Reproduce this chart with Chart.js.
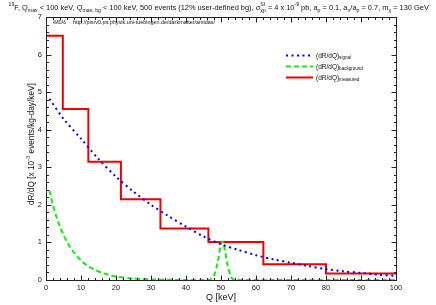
<!DOCTYPE html>
<html>
<head>
<meta charset="utf-8">
<script src="https://cdn.jsdelivr.net/npm/chart.js@4.4.1/dist/chart.umd.min.js"></script>
<style>
  html, body { margin: 0; padding: 0; background: #fff; }
  #wrap { width: 436px; height: 305px; }
</style>
</head>
<body>
<div id="wrap"><canvas id="c" width="436" height="305"></canvas></div>
<script>
// measured spectrum: bin edges + value per bin (x 10^-3 events/kg-day/keV)
const binEdges = [0, 4.8, 12.1, 21.4, 32.7, 46.4, 62.1, 80, 100];
const measured = [6.5, 4.55, 3.15, 2.15, 1.37, 1.01, 0.42, 0.17];

// signal curve
const signalQ = [1, 5, 10, 15, 20, 25, 30, 35, 40, 45, 50, 55, 60, 65, 70, 75, 80, 85, 90, 95, 100];
const signalRate = [4.82, 4.29, 3.76, 3.22, 2.75, 2.35, 2.0, 1.7, 1.42, 1.16, 0.95, 0.8, 0.66, 0.55, 0.46, 0.37, 0.29, 0.23, 0.19, 0.14, 0.11];

// background curve
const bgQ = [1, 2, 3, 4, 5, 6, 7, 8, 9, 10, 12, 14, 16, 18, 20, 25, 30, 35, 40, 46, 47, 48, 49, 50, 50.5, 51, 52, 53, 54, 60, 70, 80, 90, 100];
const bgRate = [2.38, 1.99, 1.68, 1.42, 1.2, 1.02, 0.86, 0.73, 0.62, 0.52, 0.37, 0.27, 0.19, 0.14, 0.09, 0.04, 0.015, 0.005, 0, 0, 0.02, 0.12, 0.45, 0.95, 1.02, 0.85, 0.35, 0.06, 0, 0, 0, 0, 0, 0];

const xTicks = [0, 10, 20, 30, 40, 50, 60, 70, 80, 90, 100];
const yTicks = [0, 1, 2, 3, 4, 5, 6, 7];

const FONT = '"Liberation Sans", Arial, Helvetica, sans-serif';

// step points: each bin value is held until the next edge
const measuredPts = [{ x: binEdges[0], y: measured[0] }];
for (let i = 1; i < binEdges.length; i++) {
  measuredPts.push({ x: binEdges[i], y: measured[i - 1] });
  if (i < measured.length) measuredPts.push({ x: binEdges[i], y: measured[i] });
}
const signalPts = signalQ.map((q, i) => ({ x: q, y: signalRate[i] }));
const bgPts = bgQ.map((q, i) => ({ x: q, y: bgRate[i] }));

// draw text with super/subscripts, returns width
function richWidth(ctx, parts, size) {
  let w = 0;
  for (const [t, mode] of parts) {
    if (mode === 'both') {
      ctx.font = (size * 0.7) + 'px ' + FONT;
      w += Math.max(ctx.measureText(t[0]).width, ctx.measureText(t[1]).width);
    } else {
      ctx.font = (mode ? size * 0.7 : size) + 'px ' + FONT;
      w += ctx.measureText(t).width;
    }
  }
  return w;
}

function drawRich(ctx, x, y, parts, size) {
  ctx.textBaseline = 'alphabetic';
  ctx.textAlign = 'left';
  for (const [t, mode] of parts) {
    if (mode === 'both') {
      ctx.font = (size * 0.7) + 'px ' + FONT;
      ctx.fillText(t[0], x, y - size * 0.42);
      ctx.fillText(t[1], x, y + size * 0.3);
      x += Math.max(ctx.measureText(t[0]).width, ctx.measureText(t[1]).width);
    } else if (mode) {
      ctx.font = (size * 0.7) + 'px ' + FONT;
      ctx.fillText(t, x, y + (mode === 'sup' ? -size * 0.42 : size * 0.3));
      x += ctx.measureText(t).width;
    } else {
      ctx.font = size + 'px ' + FONT;
      ctx.fillText(t, x, y);
      x += ctx.measureText(t).width;
    }
  }
}

// plain text squeezed into a given width
function fitText(ctx, text, x, y, width, size) {
  ctx.font = size + 'px ' + FONT;
  const s = width / ctx.measureText(text).width;
  ctx.save();
  ctx.translate(x, y);
  ctx.scale(s, 1);
  ctx.textAlign = 'left';
  ctx.fillText(text, 0, 0);
  ctx.restore();
}

const titleParts = [
  ['19', 'sup'], ['F, Q', ''], ['max', 'sub'], [' < 100 keV, Q', ''], ['max, bg', 'sub'],
  [' < 100 keV, 500 events (12% user-defined bg), σ', ''], [['SI', 'χp'], 'both'],
  [' = 4 x 10', ''], ['-9', 'sup'], [' pb, a', ''], ['p', 'sub'], [' = 0.1, a', ''], ['n', 'sub'],
  ['/a', ''], ['p', 'sub'], [' = 0.7, m', ''], ['χ', 'sub'], [' = 130 GeV', '']
];
const yTitleParts = [['dR/dQ [x 10', ''], ['-3', 'sup'], [' events/kg-day/keV]', '']];

const legendItems = [
  { sub: 'signal', color: '#0000ee', dash: [2, 3.5] },
  { sub: 'background', color: '#11ee11', dash: [5, 3] },
  { sub: 'measured', color: '#ee0000', dash: [] }
];

const decorPlugin = {
  id: 'decor',
  afterDraw(chart) {
    const ctx = chart.ctx;
    const a = chart.chartArea;
    const xs = chart.scales.x, ys = chart.scales.y;
    ctx.save();

    // frame
    ctx.strokeStyle = '#222';
    ctx.lineWidth = 1;
    const L = Math.round(a.left) + 0.5, R = Math.round(a.right) + 0.5;
    const T = Math.round(a.top) + 0.5, B = Math.round(a.bottom) + 0.5;
    ctx.strokeRect(L, T, R - L, B - T);

    // inward ticks on all sides
    ctx.beginPath();
    for (let v = 0; v <= 100; v += 2) {
      const px = Math.round(xs.getPixelForValue(v)) + 0.5;
      const len = v % 10 === 0 ? 5 : 2.5;
      ctx.moveTo(px, B); ctx.lineTo(px, B - len);
      ctx.moveTo(px, T); ctx.lineTo(px, T + len);
    }
    for (let i = 0; i <= 35; i++) {
      const py = Math.round(ys.getPixelForValue(i / 5)) + 0.5;
      const len = i % 5 === 0 ? 5 : 2.5;
      ctx.moveTo(L, py); ctx.lineTo(L + len, py);
      ctx.moveTo(R, py); ctx.lineTo(R - len, py);
    }
    ctx.stroke();

    ctx.fillStyle = '#111';

    // title
    const tw = richWidth(ctx, titleParts, 10);
    drawRich(ctx, 8.5, 9.5, titleParts, 10 * 421 / tw);

    // amidas tag
    fitText(ctx, 'AMIDAS', 53, 24, 13, 5);
    fitText(ctx, 'http://pisrv0.pit.physik.uni-tuebingen.de/darkmatter/amidas/', 73, 24, 142, 5);

    // y title
    const yw = richWidth(ctx, yTitleParts, 10);
    const ySize = 10 * 122 / yw;
    ctx.save();
    ctx.translate(33.5, 144);
    ctx.rotate(-Math.PI / 2);
    drawRich(ctx, -61, 0, yTitleParts, ySize);
    ctx.restore();

    // x title
    ctx.font = '9px ' + FONT;
    ctx.textAlign = 'center';
    ctx.fillText('Q [keV]', (a.left + a.right) / 2, 300);

    // legend
    legendItems.forEach((it, i) => {
      const y = 55.5 + i * 11;
      ctx.beginPath();
      ctx.setLineDash(it.dash);
      ctx.strokeStyle = it.color;
      ctx.lineWidth = 2;
      ctx.moveTo(286, y); ctx.lineTo(313, y);
      ctx.stroke();
      ctx.setLineDash([]);
      ctx.fillStyle = '#111';
      drawRich(ctx, 316, y + 2, [['(dR/dQ)', ''], [it.sub, 'sub']], 6.5);
    });

    ctx.restore();
  }
};

new Chart(document.getElementById('c'), {
  type: 'line',
  data: {
    datasets: [
      {
        label: 'signal', data: signalPts, borderColor: '#0000ee', borderWidth: 2,
        borderDash: [2, 3.5], pointRadius: 0, fill: false, tension: 0.3
      },
      {
        label: 'background', data: bgPts, borderColor: '#11ee11', borderWidth: 2,
        borderDash: [5, 3], pointRadius: 0, fill: false, tension: 0.3
      },
      {
        label: 'measured', data: measuredPts, borderColor: '#ee0000', borderWidth: 2,
        pointRadius: 0, fill: false
      }
    ]
  },
  options: {
    responsive: false,
    animation: false,
    devicePixelRatio: 1,
    layout: { padding: { top: 17, right: 40, left: 0, bottom: 0 } },
    plugins: { legend: { display: false }, tooltip: { enabled: false } },
    scales: {
      x: {
        type: 'linear', min: 0, max: 100,
        afterFit: s => { s.height = 25; },
        afterBuildTicks: s => { s.ticks = xTicks.map(v => ({ value: v })); },
        grid: { display: false, drawTicks: false },
        border: { display: false },
        ticks: { font: { size: 7.5, family: FONT }, color: '#222', padding: 3, maxRotation: 0, autoSkip: false }
      },
      y: {
        type: 'linear', min: 0, max: 7,
        afterFit: s => { s.width = 46; },
        afterBuildTicks: s => { s.ticks = yTicks.map(v => ({ value: v })); },
        grid: { display: false, drawTicks: false },
        border: { display: false },
        ticks: { font: { size: 7.5, family: FONT }, color: '#222', padding: 4, autoSkip: false }
      }
    }
  },
  plugins: [decorPlugin]
});
</script>
</body>
</html>
